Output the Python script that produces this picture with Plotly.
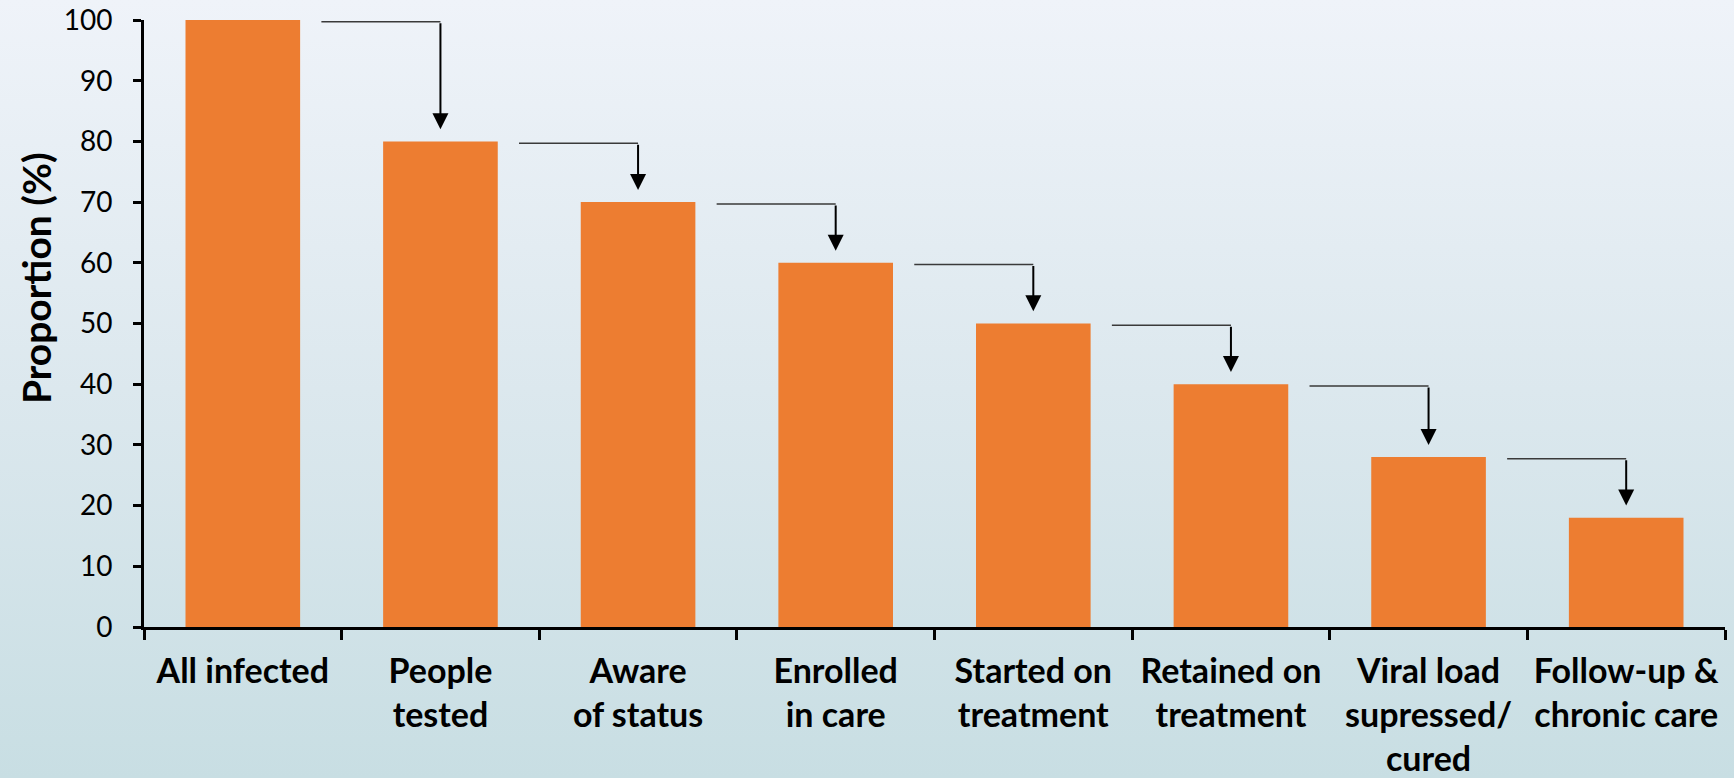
import base64
import plotly.graph_objects as go

# ---- data ----
categories = ["All infected", "People<br>tested", "Aware<br>of status", "Enrolled<br>in care",
              "Started on<br>treatment", "Retained on<br>treatment",
              "Viral load<br>supressed/<br>cured", "Follow-up &<br>chronic care"]
values = [100, 80, 70, 60, 50, 40, 28, 18]
y_ticks = [0, 10, 20, 30, 40, 50, 60, 70, 80, 90, 100]
y_title = "Proportion (%)"

# ---- layout constants ----
W, H = 1734, 778
ML, MR, MT, MB = 144, 9, 20, 151
PW, PH = W - ML - MR, H - MT - MB
FONT = "Lato"
BAR_COLOR = "#ED7D31"

svg = f"""<svg xmlns='http://www.w3.org/2000/svg' width='{W}' height='{H}' preserveAspectRatio='none'>
<defs><linearGradient id='g' x1='0' y1='0' x2='0' y2='1'>
<stop offset='0' stop-color='#eff3f9'/><stop offset='0.5' stop-color='#dce8ee'/><stop offset='1' stop-color='#c8dee3'/>
</linearGradient></defs><rect width='100%' height='100%' fill='url(#g)'/></svg>"""
bg_uri = "data:image/svg+xml;base64," + base64.b64encode(svg.encode()).decode()

fig = go.Figure()
fig.add_trace(go.Bar(x=categories, y=values, marker=dict(color=BAR_COLOR, line=dict(width=0)),
                     width=0.58, hoverinfo="skip"))

annotations = []
line_drop = 0.3
tip_gap = 2.0
for i in range(len(values) - 1):
    yl = values[i] - line_drop
    # horizontal connector
    annotations.append(dict(x=i + 1, y=yl, ax=i + 0.39, ay=yl, xref="x", yref="y", axref="x", ayref="y",
                            text="", showarrow=True, arrowhead=0, arrowwidth=1.5, arrowcolor="#3a3a3a",
                            standoff=0, startstandoff=0))
    # vertical arrow
    annotations.append(dict(x=i + 1, y=values[i + 1] + tip_gap, ax=i + 1, ay=yl, xref="x", yref="y",
                            axref="x", ayref="y", text="", showarrow=True, arrowhead=2, arrowsize=1.6,
                            arrowwidth=2, arrowcolor="#000000", standoff=0, startstandoff=0))

# y-axis title (placed as a rotated annotation, as it sits above the axis centre in the original)
annotations.append(dict(text=y_title, xref="paper", yref="paper", x=(36 - ML) / PW, y=(627 - 278) / PH,
                        xanchor="center", yanchor="middle", textangle=-90, showarrow=False,
                        font=dict(family=FONT, size=39, color="#000", weight="bold")))

fig.update_layout(
    width=W, height=H,
    margin=dict(l=ML, r=MR, t=MT, b=MB, autoexpand=False),
    paper_bgcolor="rgba(0,0,0,0)", plot_bgcolor="rgba(0,0,0,0)",
    showlegend=False,
    font=dict(family=FONT, color="#000000"),
    annotations=annotations,
    images=[dict(source=bg_uri, xref="paper", yref="paper", x=-ML / PW, y=1 + MT / PH,
                 sizex=W / PW, sizey=H / PH, xanchor="left", yanchor="top", sizing="stretch",
                 layer="below")],
)
fig.update_xaxes(type="category", tickson="boundaries", ticks="outside", ticklen=10, tickwidth=3,
                 tickcolor="#000", showline=True, linewidth=3, linecolor="#000", showgrid=False,
                 tickfont=dict(family=FONT, size=34, color="#000", weight="bold"), tickangle=0,
                 ticklabelstandoff=12, range=[-0.5, len(values) - 0.5], automargin=False)
fig.update_yaxes(range=[0, 100], tickvals=y_ticks, ticks="outside", ticklen=8, tickwidth=3,
                 tickcolor="#000", showline=True, linewidth=3, linecolor="#000", showgrid=False,
                 zeroline=False, tickfont=dict(family=FONT, size=28, color="#000"),
                 ticklabelstandoff=15, automargin=False)

fig.write_html("out.html")
